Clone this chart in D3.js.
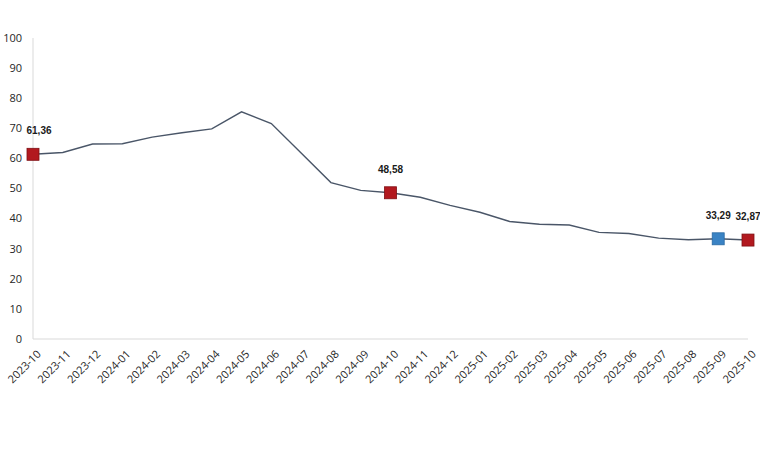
<!DOCTYPE html>
<html><head><meta charset="utf-8">
<script src="https://cdn.jsdelivr.net/npm/d3@7/dist/d3.min.js"></script>
<style>body{margin:0;background:#fff}svg{display:block}</style>
</head><body>
<svg id="c" width="760" height="450"></svg>
<script>
const months = ["2023-10","2023-11","2023-12","2024-01","2024-02","2024-03","2024-04","2024-05","2024-06","2024-07","2024-08","2024-09","2024-10","2024-11","2024-12","2025-01","2025-02","2025-03","2025-04","2025-05","2025-06","2025-07","2025-08","2025-09","2025-10"];
const values = [61.36,61.98,64.77,64.86,67.07,68.50,69.80,75.45,71.60,61.78,51.97,49.38,48.58,47.09,44.38,42.12,39.05,38.10,37.86,35.41,35.05,33.52,32.95,33.29,32.87];
const yTicks = [0,10,20,30,40,50,60,70,80,90,100];
const highlights = [
  {month:"2023-10", color:"red"},
  {month:"2024-10", color:"red"},
  {month:"2025-09", color:"blue"},
  {month:"2025-10", color:"red"}
];

const svg = d3.select("#c");
const x = d3.scalePoint().domain(months).range([33, 748]);
const y = d3.scaleLinear().domain([0,100]).range([339, 38]);
const data = months.map((m,i)=>({m, v:values[i]}));

svg.append("line").attr("x1",33).attr("x2",33).attr("y1",y(100)).attr("y2",y(0)).attr("stroke","#d9d9d9").attr("stroke-width",1);
svg.append("line").attr("x1",33).attr("x2",748).attr("y1",y(0)).attr("y2",y(0)).attr("stroke","#d9d9d9").attr("stroke-width",1.2);

svg.append("g").selectAll("text").data(yTicks).join("text")
  .attr("x",22).attr("y",d=>y(d)).attr("dy","0.35em").attr("text-anchor","end")
  .attr("font-family","Open Sans, Noto Sans, sans-serif").attr("font-size",11).attr("fill","#262626")
  .text(d=>d);

svg.append("g").selectAll("text").data(months).join("text")
  .attr("transform",d=>`translate(${x(d)+6},${y(0)+13}) rotate(-45)`)
  .attr("text-anchor","end").attr("dy","0.35em")
  .attr("font-family","Open Sans, Noto Sans, sans-serif").attr("font-size",11).attr("fill","#262626")
  .text(d=>d);

svg.append("path").datum(data)
  .attr("d", d3.line().x(d=>x(d.m)).y(d=>y(d.v)))
  .attr("fill","none").attr("stroke","#4a5668").attr("stroke-width",1.4);

const colors = {red:{f:"#b2191f",s:"#7f0f13"}, blue:{f:"#3a83c4",s:"#2a6aa3"}};
const hl = highlights.map(h=>({...h, v: values[months.indexOf(h.month)]}));
svg.append("g").selectAll("rect").data(hl).join("rect")
  .attr("x",d=>x(d.month)-6).attr("y",d=>y(d.v)-6).attr("width",12).attr("height",12)
  .attr("fill",d=>colors[d.color].f).attr("stroke",d=>colors[d.color].s).attr("stroke-width",0.8);

svg.append("g").selectAll("text").data(hl).join("text")
  .attr("x",(d,i)=>x(d.month)+(i===0?6:0)).attr("y",d=>y(d.v)-20)
  .attr("text-anchor","middle")
  .attr("font-family","Liberation Sans, Arial, sans-serif").attr("font-size",10).attr("font-weight","bold").attr("fill","#1a1a1a")
  .text(d=>d3.format(".2f")(d.v).replace(".",","));
</script>
</body></html>
